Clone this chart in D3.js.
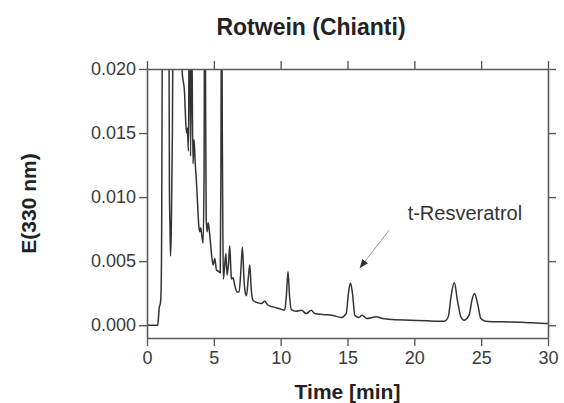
<!DOCTYPE html>
<html>
<head>
<meta charset="utf-8">
<script src="https://cdn.jsdelivr.net/npm/d3@7"></script>
<style>
  html, body { margin: 0; padding: 0; background: #fff; }
  svg { display: block; font-family: "Liberation Sans", Arial, sans-serif; }
</style>
</head>
<body>
<svg id="chart" width="564" height="403"></svg>
<script>
// ---- data ----
const timeMin = [
  0, 0.5, 0.8, 0.86, 0.92, 1.0, 1.05, 1.1, 1.15, 1.2, 1.4, 1.6, 1.68, 1.72, 1.76, 1.82, 1.9, 1.97, 2.05,
  2.3, 2.5, 2.63, 2.72, 2.8, 2.86, 2.9, 2.96, 3.02, 3.1, 3.17, 3.26, 3.34, 3.44, 3.52, 3.6, 3.7, 3.78,
  3.83, 3.9, 3.96, 4.02, 4.1, 4.2, 4.27, 4.32, 4.38, 4.43, 4.5, 4.58, 4.7, 4.83, 4.95, 5.07, 5.2, 5.35,
  5.48, 5.53, 5.58, 5.63, 5.67, 5.71, 5.8, 5.9, 5.99, 6.1, 6.19, 6.3, 6.34, 6.44, 6.57, 6.74, 6.89,
  7.02, 7.14, 7.26, 7.34, 7.44, 7.58, 7.69, 7.8, 7.93, 8.31, 8.56, 8.81, 9.05, 9.43, 9.93, 10.3, 10.42,
  10.55, 10.67, 10.8, 11.17, 11.54, 11.92, 12.29, 12.54, 13.16, 13.9, 14.53, 14.9, 15.07, 15.22, 15.37,
  15.55, 15.85, 16.1, 16.44, 17.14, 17.64, 18.38, 19.75, 20.99, 22.24, 22.54, 22.74, 22.99, 23.23,
  23.48, 23.73, 24.1, 24.3, 24.5, 24.73, 24.98, 25.35, 26.47, 27.96, 29.95, 30
];
const absorbance = [
  0, 0, 0, 0.0006, 0.0014, 0.0017, 0.0025, 0.008, 0.025, 0.05, 0.06, 0.04, 0.0104, 0.0078, 0.0054, 0.0075, 0.015, 0.03, 0.05,
  0.04, 0.027, 0.0198, 0.0190, 0.0183, 0.0168, 0.0158, 0.0150, 0.0154, 0.0136, 0.028, 0.0132, 0.024, 0.0126, 0.0145, 0.0128, 0.0112, 0.0096,
  0.0085, 0.0075, 0.0073, 0.0076, 0.0070, 0.0064, 0.012, 0.03, 0.019, 0.0083, 0.0073, 0.0080, 0.0070, 0.0055, 0.0047, 0.0052, 0.0043, 0.0042,
  0.0041, 0.012, 0.03, 0.0157, 0.008, 0.0036, 0.0045, 0.0056, 0.0039, 0.0048, 0.0062, 0.0038, 0.0036, 0.0037, 0.0031, 0.0026, 0.0026,
  0.0042, 0.0061, 0.0035, 0.0026, 0.0023, 0.0037, 0.0047, 0.0028, 0.00195, 0.00174, 0.00169, 0.00187, 0.00156, 0.00143, 0.00128, 0.00117, 0.0022,
  0.0042, 0.0022, 0.00122, 0.00109, 0.00117, 0.00091, 0.00117, 0.00091, 0.00083, 0.00076, 0.0006, 0.0009, 0.0025, 0.0033, 0.0025,
  0.00078, 0.0006, 0.00078, 0.00052, 0.00065, 0.00052, 0.00044, 0.00039, 0.00034, 0.00031, 0.00066, 0.0022, 0.00333, 0.0019,
  0.00066, 0.00039, 0.0008, 0.0019, 0.00247, 0.0017, 0.00052, 0.00031, 0.00026, 0.00023, 0.00013, 0.00013
];
const xTickValues = [0, 5, 10, 15, 20, 25, 30];
const yTickValues = [0.000, 0.005, 0.010, 0.015, 0.020];
const xDomain = [0, 30];
const yDomain = [-0.001, 0.020];
const titleText = "Rotwein (Chianti)";
const xLabelText = "Time [min]";
const yLabelText = "E(330 nm)";
const annotationText = "t-Resveratrol";
// annotation anchor in data units: text start, arrow start, arrow tip
const annotationTextAt = [19.5, 0.0082];
const arrowFrom = [18.1, 0.0074];
const arrowTo = [15.95, 0.0045];

// ---- layout ----
const W = 564, H = 403;
const margin = { left: 147, right: 16, top: 69, bottom: 65 };
const svg = d3.select("#chart");

const x = d3.scaleLinear().domain(xDomain).range([margin.left, W - margin.right]);
const y = d3.scaleLinear().domain(yDomain).range([H - margin.bottom, margin.top]);

const frameColor = "#5a5a5a";
const textColor = "#3a3a3a";

const defs = svg.append("defs");
defs.append("clipPath").attr("id", "clip")
  .append("rect")
  .attr("x", x(xDomain[0])).attr("y", y(yDomain[1]))
  .attr("width", x(xDomain[1]) - x(xDomain[0]))
  .attr("height", y(yDomain[0]) - y(yDomain[1]));

// trace
const pts = timeMin.map((t, i) => [t, absorbance[i]]);
const line = d3.line().x(d => x(d[0])).y(d => y(d[1])).curve(d3.curveMonotoneX);
svg.append("path")
  .attr("clip-path", "url(#clip)")
  .attr("d", line(pts))
  .attr("fill", "none")
  .attr("stroke", "#333")
  .attr("stroke-width", 1.5)
  .attr("stroke-linejoin", "round");

// axes
function styleAxis(g) {
  g.select(".domain").attr("stroke", frameColor).attr("stroke-width", 1.6);
  g.selectAll(".tick line").attr("stroke", frameColor).attr("stroke-width", 1.4);
  g.selectAll(".tick text").attr("fill", textColor)
    .style("font-size", "18px").style("font-family", "Liberation Sans, Arial, sans-serif");
}
const fmtY = d3.format(".3f");
svg.append("g").attr("transform", `translate(0,${y(yDomain[0])})`)
  .call(d3.axisBottom(x).tickValues(xTickValues).tickSize(8).tickPadding(5).tickSizeOuter(0))
  .call(styleAxis);
svg.append("g").attr("transform", `translate(0,${y(yDomain[1])})`)
  .call(d3.axisTop(x).tickValues(xTickValues).tickSize(8).tickFormat("").tickSizeOuter(0))
  .call(styleAxis);
svg.append("g").attr("transform", `translate(${x(xDomain[0])},0)`)
  .call(d3.axisLeft(y).tickValues(yTickValues).tickFormat(fmtY).tickSize(8).tickPadding(3).tickSizeOuter(0))
  .call(styleAxis);
svg.append("g").attr("transform", `translate(${x(xDomain[1])},0)`)
  .call(d3.axisRight(y).tickValues(yTickValues).tickFormat("").tickSize(8).tickSizeOuter(0))
  .call(styleAxis);

// title and labels
svg.append("text")
  .attr("x", 311).attr("y", 35)
  .attr("text-anchor", "middle")
  .attr("fill", "#222")
  .style("font-size", "23px").style("font-weight", "bold")
  .text(titleText);
svg.append("text")
  .attr("x", (x(xDomain[0]) + x(xDomain[1])) / 2).attr("y", 399)
  .attr("text-anchor", "middle")
  .attr("fill", "#222")
  .style("font-size", "21px").style("font-weight", "bold")
  .text(xLabelText);
svg.append("text")
  .attr("transform", `translate(36,${(y(yDomain[0]) + y(yDomain[1])) / 2}) rotate(-90)`)
  .attr("text-anchor", "middle")
  .attr("fill", "#222")
  .style("font-size", "21px").style("font-weight", "bold")
  .text(yLabelText);

// annotation
defs.append("marker")
  .attr("id", "arrowhead")
  .attr("viewBox", "0 0 10 10")
  .attr("refX", 9).attr("refY", 5)
  .attr("markerWidth", 9).attr("markerHeight", 9)
  .attr("markerUnits", "userSpaceOnUse")
  .attr("orient", "auto")
  .append("path").attr("d", "M0,1 L10,5 L0,9 Z").attr("fill", "#333");
svg.append("line")
  .attr("x1", x(arrowFrom[0])).attr("y1", y(arrowFrom[1]))
  .attr("x2", x(arrowTo[0])).attr("y2", y(arrowTo[1]))
  .attr("stroke", "#999").attr("stroke-width", 1)
  .attr("marker-end", "url(#arrowhead)");
svg.append("text")
  .attr("x", x(annotationTextAt[0])).attr("y", y(annotationTextAt[1]))
  .attr("fill", "#333")
  .style("font-size", "20px")
  .text(annotationText);
</script>
</body>
</html>
